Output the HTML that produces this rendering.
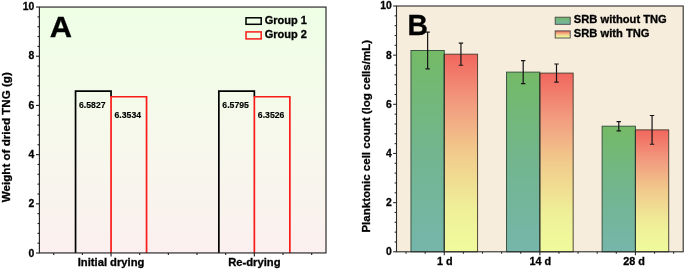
<!DOCTYPE html>
<html><head><meta charset="utf-8"><title>Figure</title>
<style>
html,body{margin:0;padding:0;background:#fff;}
body{width:685px;height:270px;overflow:hidden;}
svg{display:block;will-change:transform;opacity:0.999;}
text{font-family:"Liberation Sans",Arial,sans-serif;font-weight:bold;fill:#000;stroke:#000;stroke-width:0.3px;}
.sm{stroke-width:0.15px;}
</style></head><body>
<svg width="685" height="270" viewBox="0 0 685 270">
<defs>
<linearGradient id="bgA" x1="0" y1="0" x2="0" y2="1"><stop offset="0" stop-color="#eeffe6"/><stop offset="0.55" stop-color="#f7f8ec"/><stop offset="1" stop-color="#fbf0ef"/></linearGradient>
<linearGradient id="gG" x1="0" y1="0" x2="0" y2="1"><stop offset="0" stop-color="#74ba66"/><stop offset="0.5" stop-color="#72b58e"/><stop offset="1" stop-color="#76b6ab"/></linearGradient>
<linearGradient id="gR" x1="0" y1="0" x2="0" y2="1"><stop offset="0" stop-color="#f1665e"/><stop offset="0.25" stop-color="#f29b7f"/><stop offset="0.5" stop-color="#f1cb8c"/><stop offset="0.78" stop-color="#efef98"/><stop offset="1" stop-color="#f0fb9d"/></linearGradient>
<linearGradient id="lgG" x1="0" y1="0" x2="0" y2="1"><stop offset="0" stop-color="#72b966"/><stop offset="1" stop-color="#76b6a8"/></linearGradient>
<linearGradient id="lgR" x1="0" y1="0" x2="0" y2="1"><stop offset="0" stop-color="#f1665e"/><stop offset="0.5" stop-color="#f1cb8c"/><stop offset="0.9" stop-color="#f0fb9d"/></linearGradient>
</defs>

<rect x="39.4" y="7.05" width="286.6" height="245.9" fill="url(#bgA)"/>
<line x1="36.0" x2="39.4" y1="253.00" y2="253.00" stroke="#242424" stroke-width="1.15"/>
<text x="34.199999999999996" y="256.85" font-size="10.4" text-anchor="end">0</text>
<line x1="37.5" x2="39.4" y1="243.16" y2="243.16" stroke="#242424" stroke-width="1.15"/>
<line x1="37.5" x2="39.4" y1="233.32" y2="233.32" stroke="#242424" stroke-width="1.15"/>
<line x1="37.5" x2="39.4" y1="223.49" y2="223.49" stroke="#242424" stroke-width="1.15"/>
<line x1="37.5" x2="39.4" y1="213.65" y2="213.65" stroke="#242424" stroke-width="1.15"/>
<line x1="36.0" x2="39.4" y1="203.81" y2="203.81" stroke="#242424" stroke-width="1.15"/>
<text x="34.199999999999996" y="207.44" font-size="10.4" text-anchor="end">2</text>
<line x1="37.5" x2="39.4" y1="193.97" y2="193.97" stroke="#242424" stroke-width="1.15"/>
<line x1="37.5" x2="39.4" y1="184.13" y2="184.13" stroke="#242424" stroke-width="1.15"/>
<line x1="37.5" x2="39.4" y1="174.30" y2="174.30" stroke="#242424" stroke-width="1.15"/>
<line x1="37.5" x2="39.4" y1="164.46" y2="164.46" stroke="#242424" stroke-width="1.15"/>
<line x1="36.0" x2="39.4" y1="154.62" y2="154.62" stroke="#242424" stroke-width="1.15"/>
<text x="34.199999999999996" y="158.03" font-size="10.4" text-anchor="end">4</text>
<line x1="37.5" x2="39.4" y1="144.78" y2="144.78" stroke="#242424" stroke-width="1.15"/>
<line x1="37.5" x2="39.4" y1="134.94" y2="134.94" stroke="#242424" stroke-width="1.15"/>
<line x1="37.5" x2="39.4" y1="125.11" y2="125.11" stroke="#242424" stroke-width="1.15"/>
<line x1="37.5" x2="39.4" y1="115.27" y2="115.27" stroke="#242424" stroke-width="1.15"/>
<line x1="36.0" x2="39.4" y1="105.43" y2="105.43" stroke="#242424" stroke-width="1.15"/>
<text x="34.199999999999996" y="108.62" font-size="10.4" text-anchor="end">6</text>
<line x1="37.5" x2="39.4" y1="95.59" y2="95.59" stroke="#242424" stroke-width="1.15"/>
<line x1="37.5" x2="39.4" y1="85.75" y2="85.75" stroke="#242424" stroke-width="1.15"/>
<line x1="37.5" x2="39.4" y1="75.92" y2="75.92" stroke="#242424" stroke-width="1.15"/>
<line x1="37.5" x2="39.4" y1="66.08" y2="66.08" stroke="#242424" stroke-width="1.15"/>
<line x1="36.0" x2="39.4" y1="56.24" y2="56.24" stroke="#242424" stroke-width="1.15"/>
<text x="34.199999999999996" y="59.21" font-size="10.4" text-anchor="end">8</text>
<line x1="37.5" x2="39.4" y1="46.40" y2="46.40" stroke="#242424" stroke-width="1.15"/>
<line x1="37.5" x2="39.4" y1="36.56" y2="36.56" stroke="#242424" stroke-width="1.15"/>
<line x1="37.5" x2="39.4" y1="26.73" y2="26.73" stroke="#242424" stroke-width="1.15"/>
<line x1="37.5" x2="39.4" y1="16.89" y2="16.89" stroke="#242424" stroke-width="1.15"/>
<line x1="36.0" x2="39.4" y1="7.05" y2="7.05" stroke="#242424" stroke-width="1.15"/>
<text x="34.199999999999996" y="9.80" font-size="10.4" text-anchor="end">10</text>
<line x1="53.73" x2="53.73" y1="253.0" y2="254.9" stroke="#242424" stroke-width="1.15"/>
<line x1="82.39" x2="82.39" y1="253.0" y2="254.9" stroke="#242424" stroke-width="1.15"/>
<line x1="111.05" x2="111.05" y1="253.0" y2="256.4" stroke="#242424" stroke-width="1.15"/>
<line x1="139.71" x2="139.71" y1="253.0" y2="254.9" stroke="#242424" stroke-width="1.15"/>
<line x1="168.37" x2="168.37" y1="253.0" y2="254.9" stroke="#242424" stroke-width="1.15"/>
<line x1="197.03" x2="197.03" y1="253.0" y2="254.9" stroke="#242424" stroke-width="1.15"/>
<line x1="225.69" x2="225.69" y1="253.0" y2="254.9" stroke="#242424" stroke-width="1.15"/>
<line x1="254.35" x2="254.35" y1="253.0" y2="256.4" stroke="#242424" stroke-width="1.15"/>
<line x1="283.01" x2="283.01" y1="253.0" y2="254.9" stroke="#242424" stroke-width="1.15"/>
<line x1="311.67" x2="311.67" y1="253.0" y2="254.9" stroke="#242424" stroke-width="1.15"/>
<path d="M75.55 253.0V91.10H111.05V96.74" fill="none" stroke="#000" stroke-width="1.7" stroke-linejoin="miter"/>
<path d="M111.05 253.0V96.74H146.55V253.0" fill="none" stroke="#fa1b18" stroke-width="1.7" stroke-linejoin="miter"/>
<text transform="translate(92.30,108.00) scale(1.02,1)" class="sm" font-size="8.5" text-anchor="middle">6.5827</text>
<text transform="translate(127.80,117.84) scale(1.02,1)" class="sm" font-size="8.5" text-anchor="middle">6.3534</text>
<path d="M218.85 253.0V91.18H254.35V96.76" fill="none" stroke="#000" stroke-width="1.7" stroke-linejoin="miter"/>
<path d="M254.35 253.0V96.76H289.85V253.0" fill="none" stroke="#fa1b18" stroke-width="1.7" stroke-linejoin="miter"/>
<text transform="translate(235.60,108.08) scale(1.02,1)" class="sm" font-size="8.5" text-anchor="middle">6.5795</text>
<text transform="translate(271.10,117.86) scale(1.02,1)" class="sm" font-size="8.5" text-anchor="middle">6.3526</text>
<rect x="39.4" y="7.05" width="286.6" height="245.9" fill="none" stroke="#242424" stroke-width="1.15"/>
<text transform="translate(111.05,266.2) scale(1.06,1)" font-size="10.6" text-anchor="middle">Initial drying</text>
<text transform="translate(254.35,266.2) scale(1.06,1)" font-size="10.6" text-anchor="middle">Re-drying</text>
<text transform="translate(10.2,137.2) rotate(-90)" font-size="11.6" text-anchor="middle">Weight of dried TNG (g)</text>
<text transform="translate(49.7,37.3) scale(1.07,1)" font-size="28.8">A</text>
<rect x="246" y="17.8" width="15.2" height="6.5" fill="none" stroke="#000" stroke-width="1.5"/>
<rect x="246" y="31.9" width="15.2" height="7.0" fill="none" stroke="#fa1b18" stroke-width="1.5"/>
<text x="264.7" y="24.2" font-size="11">Group 1</text>
<text x="264.7" y="38.1" font-size="11">Group 2</text>
<rect x="396.5" y="6.0" width="286.7" height="245.8" fill="#f7eddd"/>
<rect x="410.98" y="50.49" width="33.3" height="201.31" fill="url(#gG)" stroke="#35503f" stroke-width="0.95"/>
<rect x="444.28" y="54.18" width="33.3" height="197.62" fill="url(#gR)" stroke="#4a4030" stroke-width="0.95"/>
<line x1="444.28" x2="444.28" y1="54.18" y2="251.8" stroke="#26382e" stroke-width="0.95"/>
<path d="M427.63 32.05V68.92M425.43 32.05h4.4M425.43 68.92h4.4" stroke="#151515" stroke-width="1.2" fill="none"/>
<path d="M460.93 43.12V65.24M458.73 43.12h4.4M458.73 65.24h4.4" stroke="#151515" stroke-width="1.2" fill="none"/>
<rect x="506.55" y="72.12" width="33.3" height="179.68" fill="url(#gG)" stroke="#35503f" stroke-width="0.95"/>
<rect x="539.85" y="73.10" width="33.3" height="178.70" fill="url(#gR)" stroke="#4a4030" stroke-width="0.95"/>
<line x1="539.85" x2="539.85" y1="73.10" y2="251.8" stroke="#26382e" stroke-width="0.95"/>
<path d="M523.20 60.57V83.67M521.00 60.57h4.4M521.00 83.67h4.4" stroke="#151515" stroke-width="1.2" fill="none"/>
<path d="M556.50 64.01V82.20M554.30 64.01h4.4M554.30 82.20h4.4" stroke="#151515" stroke-width="1.2" fill="none"/>
<rect x="602.12" y="126.20" width="33.3" height="125.60" fill="url(#gG)" stroke="#35503f" stroke-width="0.95"/>
<rect x="635.42" y="129.88" width="33.3" height="121.92" fill="url(#gR)" stroke="#4a4030" stroke-width="0.95"/>
<line x1="635.42" x2="635.42" y1="129.88" y2="251.8" stroke="#26382e" stroke-width="0.95"/>
<path d="M618.77 121.53V130.87M616.57 121.53h4.4M616.57 130.87h4.4" stroke="#151515" stroke-width="1.2" fill="none"/>
<path d="M652.07 115.50V144.26M649.87 115.50h4.4M649.87 144.26h4.4" stroke="#151515" stroke-width="1.2" fill="none"/>
<rect x="396.5" y="6.0" width="286.7" height="245.8" fill="none" stroke="#2b2b2b" stroke-width="1.1"/>
<line x1="393.1" x2="396.5" y1="251.80" y2="251.80" stroke="#2b2b2b" stroke-width="1.1"/>
<text x="391.9" y="255.25" font-size="10.4" text-anchor="end">0</text>
<line x1="394.6" x2="396.5" y1="241.97" y2="241.97" stroke="#2b2b2b" stroke-width="1.1"/>
<line x1="394.6" x2="396.5" y1="232.14" y2="232.14" stroke="#2b2b2b" stroke-width="1.1"/>
<line x1="394.6" x2="396.5" y1="222.30" y2="222.30" stroke="#2b2b2b" stroke-width="1.1"/>
<line x1="394.6" x2="396.5" y1="212.47" y2="212.47" stroke="#2b2b2b" stroke-width="1.1"/>
<line x1="393.1" x2="396.5" y1="202.64" y2="202.64" stroke="#2b2b2b" stroke-width="1.1"/>
<text x="391.9" y="206.09" font-size="10.4" text-anchor="end">2</text>
<line x1="394.6" x2="396.5" y1="192.81" y2="192.81" stroke="#2b2b2b" stroke-width="1.1"/>
<line x1="394.6" x2="396.5" y1="182.98" y2="182.98" stroke="#2b2b2b" stroke-width="1.1"/>
<line x1="394.6" x2="396.5" y1="173.14" y2="173.14" stroke="#2b2b2b" stroke-width="1.1"/>
<line x1="394.6" x2="396.5" y1="163.31" y2="163.31" stroke="#2b2b2b" stroke-width="1.1"/>
<line x1="393.1" x2="396.5" y1="153.48" y2="153.48" stroke="#2b2b2b" stroke-width="1.1"/>
<text x="391.9" y="156.93" font-size="10.4" text-anchor="end">4</text>
<line x1="394.6" x2="396.5" y1="143.65" y2="143.65" stroke="#2b2b2b" stroke-width="1.1"/>
<line x1="394.6" x2="396.5" y1="133.82" y2="133.82" stroke="#2b2b2b" stroke-width="1.1"/>
<line x1="394.6" x2="396.5" y1="123.98" y2="123.98" stroke="#2b2b2b" stroke-width="1.1"/>
<line x1="394.6" x2="396.5" y1="114.15" y2="114.15" stroke="#2b2b2b" stroke-width="1.1"/>
<line x1="393.1" x2="396.5" y1="104.32" y2="104.32" stroke="#2b2b2b" stroke-width="1.1"/>
<text x="391.9" y="107.77" font-size="10.4" text-anchor="end">6</text>
<line x1="394.6" x2="396.5" y1="94.49" y2="94.49" stroke="#2b2b2b" stroke-width="1.1"/>
<line x1="394.6" x2="396.5" y1="84.66" y2="84.66" stroke="#2b2b2b" stroke-width="1.1"/>
<line x1="394.6" x2="396.5" y1="74.82" y2="74.82" stroke="#2b2b2b" stroke-width="1.1"/>
<line x1="394.6" x2="396.5" y1="64.99" y2="64.99" stroke="#2b2b2b" stroke-width="1.1"/>
<line x1="393.1" x2="396.5" y1="55.16" y2="55.16" stroke="#2b2b2b" stroke-width="1.1"/>
<text x="391.9" y="58.61" font-size="10.4" text-anchor="end">8</text>
<line x1="394.6" x2="396.5" y1="45.33" y2="45.33" stroke="#2b2b2b" stroke-width="1.1"/>
<line x1="394.6" x2="396.5" y1="35.50" y2="35.50" stroke="#2b2b2b" stroke-width="1.1"/>
<line x1="394.6" x2="396.5" y1="25.66" y2="25.66" stroke="#2b2b2b" stroke-width="1.1"/>
<line x1="394.6" x2="396.5" y1="15.83" y2="15.83" stroke="#2b2b2b" stroke-width="1.1"/>
<line x1="393.1" x2="396.5" y1="6.00" y2="6.00" stroke="#2b2b2b" stroke-width="1.1"/>
<text x="391.9" y="9.45" font-size="10.4" text-anchor="end">10</text>
<line x1="406.06" x2="406.06" y1="251.8" y2="253.70000000000002" stroke="#2b2b2b" stroke-width="1.1"/>
<line x1="425.17" x2="425.17" y1="251.8" y2="253.70000000000002" stroke="#2b2b2b" stroke-width="1.1"/>
<line x1="444.28" x2="444.28" y1="251.8" y2="255.20000000000002" stroke="#2b2b2b" stroke-width="1.1"/>
<line x1="463.40" x2="463.40" y1="251.8" y2="253.70000000000002" stroke="#2b2b2b" stroke-width="1.1"/>
<line x1="482.51" x2="482.51" y1="251.8" y2="253.70000000000002" stroke="#2b2b2b" stroke-width="1.1"/>
<line x1="501.62" x2="501.62" y1="251.8" y2="253.70000000000002" stroke="#2b2b2b" stroke-width="1.1"/>
<line x1="520.74" x2="520.74" y1="251.8" y2="253.70000000000002" stroke="#2b2b2b" stroke-width="1.1"/>
<line x1="539.85" x2="539.85" y1="251.8" y2="255.20000000000002" stroke="#2b2b2b" stroke-width="1.1"/>
<line x1="558.96" x2="558.96" y1="251.8" y2="253.70000000000002" stroke="#2b2b2b" stroke-width="1.1"/>
<line x1="578.08" x2="578.08" y1="251.8" y2="253.70000000000002" stroke="#2b2b2b" stroke-width="1.1"/>
<line x1="597.19" x2="597.19" y1="251.8" y2="253.70000000000002" stroke="#2b2b2b" stroke-width="1.1"/>
<line x1="616.30" x2="616.30" y1="251.8" y2="253.70000000000002" stroke="#2b2b2b" stroke-width="1.1"/>
<line x1="635.42" x2="635.42" y1="251.8" y2="255.20000000000002" stroke="#2b2b2b" stroke-width="1.1"/>
<line x1="654.53" x2="654.53" y1="251.8" y2="253.70000000000002" stroke="#2b2b2b" stroke-width="1.1"/>
<line x1="673.64" x2="673.64" y1="251.8" y2="253.70000000000002" stroke="#2b2b2b" stroke-width="1.1"/>
<text transform="translate(444.88,264.5) scale(1.05,1)" font-size="10.3" text-anchor="middle">1 d</text>
<text transform="translate(540.25,264.5) scale(1.05,1)" font-size="10.3" text-anchor="middle">14 d</text>
<text transform="translate(634.02,264.5) scale(1.05,1)" font-size="10.3" text-anchor="middle">28 d</text>
<text transform="translate(370.4,136.3) rotate(-90)" font-size="11.52" text-anchor="middle">Planktonic cell count (log cells/mL)</text>
<text transform="translate(407.6,35.1) scale(0.98,1)" font-size="28.8">B</text>
<rect x="555.2" y="17.2" width="15" height="7.1" fill="url(#lgG)" stroke="#444" stroke-width="0.9"/>
<rect x="555.2" y="30.9" width="15" height="7.1" fill="url(#lgR)" stroke="#444" stroke-width="0.9"/>
<text transform="translate(573.8,22.8) scale(1.015,1)" font-size="11">SRB without TNG</text>
<text transform="translate(573.8,37.4) scale(1.015,1)" font-size="11">SRB with TNG</text>
</svg></body></html>
